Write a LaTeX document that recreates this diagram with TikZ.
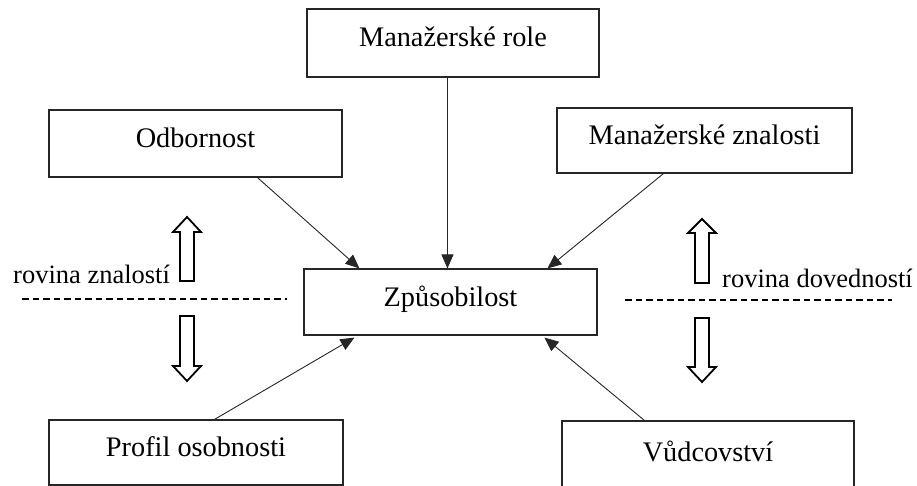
\documentclass[tikz,border=0pt]{standalone}
\usepackage{fontspec}
\setmainfont{Liberation Serif}
\usetikzlibrary{calc,arrows.meta}
\tikzset{
  box/.style={draw=black!85, line width=1.1pt, rectangle, inner sep=0pt,
    font=\fontsize{28.3}{30}\selectfont, text height=19pt, text depth=11pt},
  conn/.style={draw=black!85, line width=0.9pt, -{Triangle[length=14pt,width=12pt]}},
  lbl/.style={font=\fontsize{26.5}{29}\selectfont, inner sep=0pt, anchor=base west},
  planeline/.style={line width=1.8pt, dash pattern=on 6.5pt off 4pt},
  blockarrow/.style={draw=black, line width=1.8pt, fill=white, line join=miter}
}
\begin{document}
\begin{tikzpicture}[x=1pt,y=-1pt]
\useasboundingbox (0,0) rectangle (917,486);

\node[box, minimum width=292pt, minimum height=68pt] (role) at (453,43) {Manažerské role};
\node[box, minimum width=293pt, minimum height=67pt] (odb) at (195.5,143.5) {Odbornost};
\node[box, minimum width=295pt, minimum height=65pt] (mz) at (704.5,140.5) {Manažerské znalosti};
\node[box, minimum width=293pt, minimum height=66pt] (zp) at (450.5,302) {Způsobilost};
\node[box, minimum width=294pt, minimum height=65pt] (prof) at (196,452.5) {Profil osobnosti};
\node[box, minimum width=292pt, minimum height=72pt] (vud) at (708,457) {Vůdcovství};

\draw[conn] ($(odb.south west)+(209,0)$) -- ($(zp.north west)+(56,0)$);
\draw[conn] ($(role.south west)+(141,0)$) -- ($(zp.north west)+(144,0)$);
\draw[conn] ($(mz.south west)+(107,0)$) -- ($(zp.north west)+(244,0)$);
\draw[conn] ($(prof.north west)+(166,0)$) -- ($(zp.south west)+(51,2)$);
\draw[conn] ($(vud.north west)+(83,0)$) -- ($(zp.south west)+(241,2)$);

\node[lbl] (lz) at (13,283) {rovina znalostí};
\node[lbl] (ld) at (722,287) {rovina dovedností};

\draw[planeline] (22,299) -- (287,299);
\draw[planeline] (625,300) -- (892,300);

% block arrows left
\draw[blockarrow] (180,281) -- (180,232) -- (173,232) -- (187,217) -- (201,232) -- (194,232) -- (194,281) -- cycle;
\draw[blockarrow] (180,316) -- (180,366) -- (173,366) -- (187,381) -- (201,366) -- (194,366) -- (194,316) -- cycle;
% block arrows right
\draw[blockarrow] (695,283) -- (695,233) -- (688,233) -- (702,219) -- (716,233) -- (709,233) -- (709,283) -- cycle;
\draw[blockarrow] (695,318) -- (695,367) -- (688,367) -- (702,382) -- (716,367) -- (709,367) -- (709,318) -- cycle;
\end{tikzpicture}
\end{document}
